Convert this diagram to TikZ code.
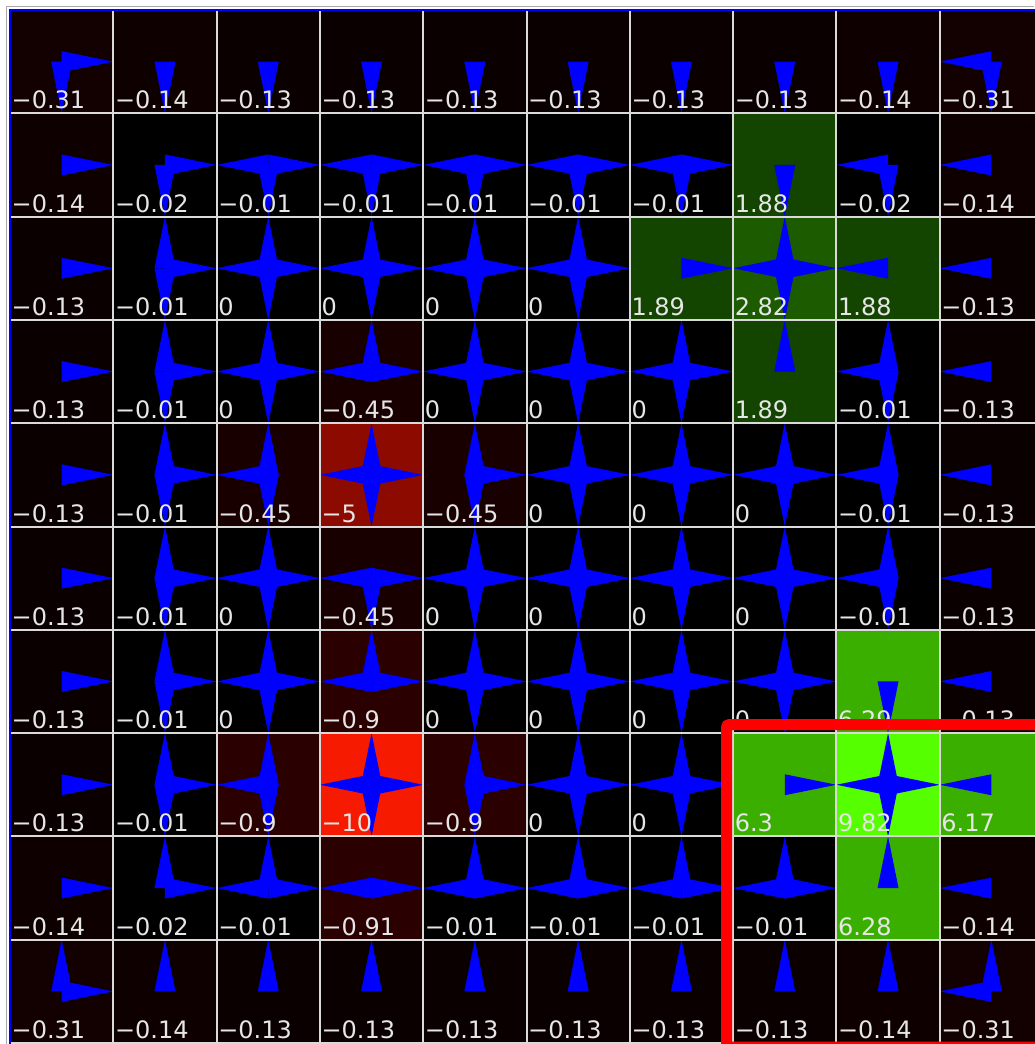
\documentclass[tikz,border=0pt]{standalone}
\usepackage{fontspec}
\setmainfont{DejaVu Sans}
\definecolor{nA}{HTML}{130000}
\definecolor{nB}{HTML}{0F0000}
\definecolor{nC}{HTML}{0A0000}
\definecolor{zz}{HTML}{000000}
\definecolor{nD}{HTML}{190000}
\definecolor{nE}{HTML}{2B0000}
\definecolor{nF}{HTML}{8C0A00}
\definecolor{nG}{HTML}{F51A00}
\definecolor{gA}{HTML}{134400}
\definecolor{gB}{HTML}{1D5B00}
\definecolor{gC}{HTML}{3AAF00}
\definecolor{gD}{HTML}{55FF00}
\definecolor{gridgray}{HTML}{DADADA}
\definecolor{labelgray}{HTML}{E6E6E6}
\definecolor{framegray}{HTML}{A8A8A8}
\definecolor{arrowblue}{HTML}{0000FF}
\definecolor{boxred}{HTML}{FF0000}
\pgfdeclarelayer{winbg}
\pgfdeclarelayer{cellbg}
\pgfdeclarelayer{cellarr}
\pgfdeclarelayer{gridl}
\pgfsetlayers{winbg,cellbg,cellarr,gridl,main}
\tikzset{
  cellarrow/.style={fill=arrowblue},
  gridline/.style={draw=gridgray, line width=2},
  frameline/.style={draw=framegray, line width=1},
  bluefr/.style={draw=arrowblue, line width=2},
  vallabel/.style={anchor=base west, inner sep=0pt, text=labelgray, font=\fontsize{24}{28}\selectfont},
  redbox/.style={draw=boxred, line width=11, rounded corners=3}
}
\makeatletter
\newcommand\gwcell[5]{%
  \pgfmathsetmacro\gwx{10+#2*103.3}%
  \pgfmathsetmacro\gwy{10+#1*103.3}%
  \begin{pgfonlayer}{cellbg}
    \fill[#4] (\gwx,\gwy) rectangle ++(103.3,103.3);
  \end{pgfonlayer}
  \begin{pgfonlayer}{cellarr}
    \begin{scope}[shift={(\gwx+51.65,\gwy+51.65)}]
      \in@{R}{#5}\ifin@ \fill[cellarrow] (0,-10.5) -- (51.65,0) -- (0,10.5) -- cycle; \fi
      \in@{L}{#5}\ifin@ \fill[cellarrow] (0,-10.5) -- (-51.65,0) -- (0,10.5) -- cycle; \fi
      \in@{U}{#5}\ifin@ \fill[cellarrow] (-10.5,0) -- (0,-51.65) -- (10.5,0) -- cycle; \fi
      \in@{D}{#5}\ifin@ \fill[cellarrow] (-10.5,0) -- (0,51.65) -- (10.5,0) -- cycle; \fi
    \end{scope}
  \end{pgfonlayer}
  \node[vallabel] (v-#1-#2) at (\gwx+1.5,\gwy+98.8) {#3};
}
\makeatother
\begin{document}
\begin{tikzpicture}[x=1pt,y=-1pt]
\useasboundingbox (0,0) rectangle (1034,1044);
\begin{pgfonlayer}{winbg}
  \fill[white] (0,0) rectangle (1034,1044);
  \draw[frameline] (6.5,1044) -- (6.5,6.5) -- (1034,6.5);
\end{pgfonlayer}
% row 0
\gwcell{0}{0}{−0.31}{nA}{RD}
\gwcell{0}{1}{−0.14}{nB}{D}
\gwcell{0}{2}{−0.13}{nC}{D}
\gwcell{0}{3}{−0.13}{nC}{D}
\gwcell{0}{4}{−0.13}{nC}{D}
\gwcell{0}{5}{−0.13}{nC}{D}
\gwcell{0}{6}{−0.13}{nC}{D}
\gwcell{0}{7}{−0.13}{nC}{D}
\gwcell{0}{8}{−0.14}{nB}{D}
\gwcell{0}{9}{−0.31}{nA}{LD}
% row 1
\gwcell{1}{0}{−0.14}{nB}{R}
\gwcell{1}{1}{−0.02}{zz}{RD}
\gwcell{1}{2}{−0.01}{zz}{LRD}
\gwcell{1}{3}{−0.01}{zz}{LRD}
\gwcell{1}{4}{−0.01}{zz}{LRD}
\gwcell{1}{5}{−0.01}{zz}{LRD}
\gwcell{1}{6}{−0.01}{zz}{LRD}
\gwcell{1}{7}{1.88}{gA}{D}
\gwcell{1}{8}{−0.02}{zz}{LD}
\gwcell{1}{9}{−0.14}{nB}{L}
% row 2
\gwcell{2}{0}{−0.13}{nC}{R}
\gwcell{2}{1}{−0.01}{zz}{URD}
\gwcell{2}{2}{0}{zz}{ULRD}
\gwcell{2}{3}{0}{zz}{ULRD}
\gwcell{2}{4}{0}{zz}{ULRD}
\gwcell{2}{5}{0}{zz}{ULRD}
\gwcell{2}{6}{1.89}{gA}{R}
\gwcell{2}{7}{2.82}{gB}{ULRD}
\gwcell{2}{8}{1.88}{gA}{L}
\gwcell{2}{9}{−0.13}{nC}{L}
% row 3
\gwcell{3}{0}{−0.13}{nC}{R}
\gwcell{3}{1}{−0.01}{zz}{URD}
\gwcell{3}{2}{0}{zz}{ULRD}
\gwcell{3}{3}{−0.45}{nD}{ULR}
\gwcell{3}{4}{0}{zz}{ULRD}
\gwcell{3}{5}{0}{zz}{ULRD}
\gwcell{3}{6}{0}{zz}{ULRD}
\gwcell{3}{7}{1.89}{gA}{U}
\gwcell{3}{8}{−0.01}{zz}{ULD}
\gwcell{3}{9}{−0.13}{nC}{L}
% row 4
\gwcell{4}{0}{−0.13}{nC}{R}
\gwcell{4}{1}{−0.01}{zz}{URD}
\gwcell{4}{2}{−0.45}{nD}{ULD}
\gwcell{4}{3}{−5}{nF}{ULRD}
\gwcell{4}{4}{−0.45}{nD}{URD}
\gwcell{4}{5}{0}{zz}{ULRD}
\gwcell{4}{6}{0}{zz}{ULRD}
\gwcell{4}{7}{0}{zz}{ULRD}
\gwcell{4}{8}{−0.01}{zz}{ULD}
\gwcell{4}{9}{−0.13}{nC}{L}
% row 5
\gwcell{5}{0}{−0.13}{nC}{R}
\gwcell{5}{1}{−0.01}{zz}{URD}
\gwcell{5}{2}{0}{zz}{ULRD}
\gwcell{5}{3}{−0.45}{nD}{LRD}
\gwcell{5}{4}{0}{zz}{ULRD}
\gwcell{5}{5}{0}{zz}{ULRD}
\gwcell{5}{6}{0}{zz}{ULRD}
\gwcell{5}{7}{0}{zz}{ULRD}
\gwcell{5}{8}{−0.01}{zz}{ULD}
\gwcell{5}{9}{−0.13}{nC}{L}
% row 6
\gwcell{6}{0}{−0.13}{nC}{R}
\gwcell{6}{1}{−0.01}{zz}{URD}
\gwcell{6}{2}{0}{zz}{ULRD}
\gwcell{6}{3}{−0.9}{nE}{ULR}
\gwcell{6}{4}{0}{zz}{ULRD}
\gwcell{6}{5}{0}{zz}{ULRD}
\gwcell{6}{6}{0}{zz}{ULRD}
\gwcell{6}{7}{0}{zz}{ULRD}
\gwcell{6}{8}{6.29}{gC}{D}
\gwcell{6}{9}{−0.13}{nC}{L}
% row 7
\gwcell{7}{0}{−0.13}{nC}{R}
\gwcell{7}{1}{−0.01}{zz}{URD}
\gwcell{7}{2}{−0.9}{nE}{ULD}
\gwcell{7}{3}{−10}{nG}{ULRD}
\gwcell{7}{4}{−0.9}{nE}{URD}
\gwcell{7}{5}{0}{zz}{ULRD}
\gwcell{7}{6}{0}{zz}{ULRD}
\gwcell{7}{7}{6.3}{gC}{R}
\gwcell{7}{8}{9.82}{gD}{ULRD}
\gwcell{7}{9}{6.17}{gC}{L}
% row 8
\gwcell{8}{0}{−0.14}{nB}{R}
\gwcell{8}{1}{−0.02}{zz}{UR}
\gwcell{8}{2}{−0.01}{zz}{ULR}
\gwcell{8}{3}{−0.91}{nE}{LR}
\gwcell{8}{4}{−0.01}{zz}{ULR}
\gwcell{8}{5}{−0.01}{zz}{ULR}
\gwcell{8}{6}{−0.01}{zz}{ULR}
\gwcell{8}{7}{−0.01}{zz}{ULR}
\gwcell{8}{8}{6.28}{gC}{U}
\gwcell{8}{9}{−0.14}{nB}{L}
% row 9
\gwcell{9}{0}{−0.31}{nA}{UR}
\gwcell{9}{1}{−0.14}{nB}{U}
\gwcell{9}{2}{−0.13}{nC}{U}
\gwcell{9}{3}{−0.13}{nC}{U}
\gwcell{9}{4}{−0.13}{nC}{U}
\gwcell{9}{5}{−0.13}{nC}{U}
\gwcell{9}{6}{−0.13}{nC}{U}
\gwcell{9}{7}{−0.13}{nC}{U}
\gwcell{9}{8}{−0.14}{nB}{U}
\gwcell{9}{9}{−0.31}{nA}{UL}
% grid
\begin{pgfonlayer}{gridl}
  \foreach \k in {1,...,9} {\draw[gridline] (10+\k*103.3,10) -- (10+\k*103.3,1044);}
  \foreach \k in {1,...,10} {\draw[gridline] (10,10+\k*103.3) -- (1044,10+\k*103.3);}
  \draw[bluefr] (10,1044) -- (10,10) -- (1044,10);
\end{pgfonlayer}
% highlight
\draw[redbox] (726.5,724.5) rectangle (1046,1047);
\end{tikzpicture}
\end{document}
